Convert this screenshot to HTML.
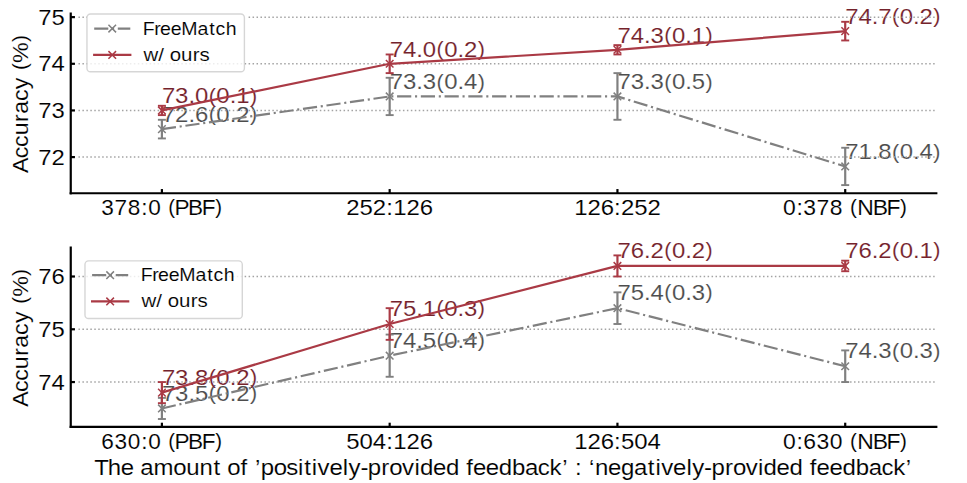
<!DOCTYPE html>
<html><head><meta charset="utf-8"><style>
html,body{margin:0;padding:0;background:#fff;width:967px;height:483px;overflow:hidden}
svg{display:block}
text{font-family:"Liberation Sans",sans-serif}
</style></head><body>
<svg width="967" height="483" viewBox="0 0 967 483">
<text transform="translate(161.9,122.11) scale(1.0817,1)" font-size="22.12" fill="#4d4d4d" stroke="#fff" stroke-width="0.12"><tspan x="-0.02 12.23 24.49 30.60" y="0">72.6</tspan><tspan x="43.32" y="-0.80" font-size="19.91">(</tspan><tspan x="50.37 62.63 68.74" y="0">0.2</tspan><tspan x="81.46" y="-0.80" font-size="19.91">)</tspan></text>
<text transform="translate(161.9,103.45) scale(1.0817,1)" font-size="22.12" fill="#74222b" stroke="#fff" stroke-width="0.12"><tspan x="-0.02 12.23 24.49 30.60" y="0">73.0</tspan><tspan x="43.32" y="-0.80" font-size="19.91">(</tspan><tspan x="50.37 62.63 68.74" y="0">0.1</tspan><tspan x="81.46" y="-0.80" font-size="19.91">)</tspan></text>
<text transform="translate(389.67,89.45) scale(1.0817,1)" font-size="22.12" fill="#4d4d4d" stroke="#fff" stroke-width="0.12"><tspan x="-0.02 12.23 24.49 30.60" y="0">73.3</tspan><tspan x="43.32" y="-0.80" font-size="19.91">(</tspan><tspan x="50.37 62.63 68.74" y="0">0.4</tspan><tspan x="81.46" y="-0.80" font-size="19.91">)</tspan></text>
<text transform="translate(389.67,56.79) scale(1.0817,1)" font-size="22.12" fill="#74222b" stroke="#fff" stroke-width="0.12"><tspan x="-0.02 12.23 24.49 30.60" y="0">74.0</tspan><tspan x="43.32" y="-0.80" font-size="19.91">(</tspan><tspan x="50.37 62.63 68.74" y="0">0.2</tspan><tspan x="81.46" y="-0.80" font-size="19.91">)</tspan></text>
<text transform="translate(617.44,89.45) scale(1.0817,1)" font-size="22.12" fill="#4d4d4d" stroke="#fff" stroke-width="0.12"><tspan x="-0.02 12.23 24.49 30.60" y="0">73.3</tspan><tspan x="43.32" y="-0.80" font-size="19.91">(</tspan><tspan x="50.37 62.63 68.74" y="0">0.5</tspan><tspan x="81.46" y="-0.80" font-size="19.91">)</tspan></text>
<text transform="translate(617.44,42.79) scale(1.0817,1)" font-size="22.12" fill="#74222b" stroke="#fff" stroke-width="0.12"><tspan x="-0.02 12.23 24.49 30.60" y="0">74.3</tspan><tspan x="43.32" y="-0.80" font-size="19.91">(</tspan><tspan x="50.37 62.63 68.74" y="0">0.1</tspan><tspan x="81.46" y="-0.80" font-size="19.91">)</tspan></text>
<text transform="translate(845.21,159.43) scale(1.0817,1)" font-size="22.12" fill="#4d4d4d" stroke="#fff" stroke-width="0.12"><tspan x="-0.02 12.23 24.49 30.60" y="0">71.8</tspan><tspan x="43.32" y="-0.80" font-size="19.91">(</tspan><tspan x="50.37 62.63 68.74" y="0">0.4</tspan><tspan x="81.46" y="-0.80" font-size="19.91">)</tspan></text>
<text transform="translate(845.21,24.13) scale(1.0817,1)" font-size="22.12" fill="#74222b" stroke="#fff" stroke-width="0.12"><tspan x="-0.02 12.23 24.49 30.60" y="0">74.7</tspan><tspan x="43.32" y="-0.80" font-size="19.91">(</tspan><tspan x="50.37 62.63 68.74" y="0">0.2</tspan><tspan x="81.46" y="-0.80" font-size="19.91">)</tspan></text>
<line x1="78.45" y1="157.1" x2="936.3" y2="157.1" stroke="#a3a3a3" stroke-width="1.5" stroke-dasharray="1.5 2.457"/>
<line x1="78.45" y1="110.44" x2="936.3" y2="110.44" stroke="#a3a3a3" stroke-width="1.5" stroke-dasharray="1.5 2.457"/>
<line x1="78.45" y1="63.79" x2="936.3" y2="63.79" stroke="#a3a3a3" stroke-width="1.5" stroke-dasharray="1.5 2.457"/>
<line x1="78.45" y1="17.13" x2="86.96" y2="17.13" stroke="#a3a3a3" stroke-width="1.5" stroke-dasharray="1.5 2.457"/>
<line x1="248.6" y1="17.13" x2="936.3" y2="17.13" stroke="#a3a3a3" stroke-width="1.5" stroke-dasharray="1.5 2.457"/>
<polyline points="161.9,129.11 389.67,96.45 617.44,96.45 845.21,166.43" fill="none" stroke="#808080" stroke-width="2.2" stroke-dasharray="14.2 3.75 2.1 3.7" stroke-dashoffset="0"/>
<line x1="161.9" y1="119.78" x2="161.9" y2="138.44" stroke="#808080" stroke-width="2.2"/>
<line x1="157.9" y1="119.78" x2="165.9" y2="119.78" stroke="#808080" stroke-width="1.9"/>
<line x1="157.9" y1="138.44" x2="165.9" y2="138.44" stroke="#808080" stroke-width="1.9"/>
<path d="M158.1 125.31L165.7 132.91M158.1 132.91L165.7 125.31" stroke="#808080" stroke-width="1.5"/>
<line x1="389.67" y1="77.78" x2="389.67" y2="115.11" stroke="#808080" stroke-width="2.2"/>
<line x1="385.67" y1="77.78" x2="393.67" y2="77.78" stroke="#808080" stroke-width="1.9"/>
<line x1="385.67" y1="115.11" x2="393.67" y2="115.11" stroke="#808080" stroke-width="1.9"/>
<path d="M385.87 92.65L393.47 100.25M385.87 100.25L393.47 92.65" stroke="#808080" stroke-width="1.5"/>
<line x1="617.44" y1="73.12" x2="617.44" y2="119.78" stroke="#808080" stroke-width="2.2"/>
<line x1="613.44" y1="73.12" x2="621.44" y2="73.12" stroke="#808080" stroke-width="1.9"/>
<line x1="613.44" y1="119.78" x2="621.44" y2="119.78" stroke="#808080" stroke-width="1.9"/>
<path d="M613.64 92.65L621.24 100.25M613.64 100.25L621.24 92.65" stroke="#808080" stroke-width="1.5"/>
<line x1="845.21" y1="147.77" x2="845.21" y2="185.1" stroke="#808080" stroke-width="2.2"/>
<line x1="841.21" y1="147.77" x2="849.21" y2="147.77" stroke="#808080" stroke-width="1.9"/>
<line x1="841.21" y1="185.1" x2="849.21" y2="185.1" stroke="#808080" stroke-width="1.9"/>
<path d="M841.41 162.63L849.01 170.23M841.41 170.23L849.01 162.63" stroke="#808080" stroke-width="1.5"/>
<polyline points="161.9,110.44 389.67,63.79 617.44,49.79 845.21,31.13" fill="none" stroke="#aa3a45" stroke-width="2.2" stroke-linecap="square" stroke-linejoin="round"/>
<line x1="161.9" y1="105.78" x2="161.9" y2="115.11" stroke="#aa3a45" stroke-width="2.2"/>
<line x1="157.9" y1="105.78" x2="165.9" y2="105.78" stroke="#aa3a45" stroke-width="1.9"/>
<line x1="157.9" y1="115.11" x2="165.9" y2="115.11" stroke="#aa3a45" stroke-width="1.9"/>
<path d="M158.1 106.64L165.7 114.24M158.1 114.24L165.7 106.64" stroke="#aa3a45" stroke-width="1.5"/>
<line x1="389.67" y1="54.46" x2="389.67" y2="73.12" stroke="#aa3a45" stroke-width="2.2"/>
<line x1="385.67" y1="54.46" x2="393.67" y2="54.46" stroke="#aa3a45" stroke-width="1.9"/>
<line x1="385.67" y1="73.12" x2="393.67" y2="73.12" stroke="#aa3a45" stroke-width="1.9"/>
<path d="M385.87 59.99L393.47 67.59M385.87 67.59L393.47 59.99" stroke="#aa3a45" stroke-width="1.5"/>
<line x1="617.44" y1="45.12" x2="617.44" y2="54.46" stroke="#aa3a45" stroke-width="2.2"/>
<line x1="613.44" y1="45.12" x2="621.44" y2="45.12" stroke="#aa3a45" stroke-width="1.9"/>
<line x1="613.44" y1="54.46" x2="621.44" y2="54.46" stroke="#aa3a45" stroke-width="1.9"/>
<path d="M613.64 45.99L621.24 53.59M613.64 53.59L621.24 45.99" stroke="#aa3a45" stroke-width="1.5"/>
<line x1="845.21" y1="21.8" x2="845.21" y2="40.46" stroke="#aa3a45" stroke-width="2.2"/>
<line x1="841.21" y1="21.8" x2="849.21" y2="21.8" stroke="#aa3a45" stroke-width="1.9"/>
<line x1="841.21" y1="40.46" x2="849.21" y2="40.46" stroke="#aa3a45" stroke-width="1.9"/>
<path d="M841.41 27.33L849.01 34.93M841.41 34.93L849.01 27.33" stroke="#aa3a45" stroke-width="1.5"/>
<line x1="70.75" y1="12.5" x2="70.75" y2="194.35" stroke="#000" stroke-width="2.2"/>
<line x1="69.65" y1="193.25" x2="937.4" y2="193.25" stroke="#000" stroke-width="2.2"/>
<line x1="70.75" y1="157.1" x2="74.95" y2="157.1" stroke="#000" stroke-width="2.2"/>
<text transform="translate(38.34,164.7) scale(1.0774,1)" font-size="22.12" fill="#000" stroke="#fff" stroke-width="0.12"><tspan x="0.00 12.30" y="0">72</tspan></text>
<line x1="70.75" y1="110.44" x2="74.95" y2="110.44" stroke="#000" stroke-width="2.2"/>
<text transform="translate(38.34,118.04) scale(1.0774,1)" font-size="22.12" fill="#000" stroke="#fff" stroke-width="0.12"><tspan x="0.00 12.30" y="0">73</tspan></text>
<line x1="70.75" y1="63.79" x2="74.95" y2="63.79" stroke="#000" stroke-width="2.2"/>
<text transform="translate(38.34,71.39) scale(1.0774,1)" font-size="22.12" fill="#000" stroke="#fff" stroke-width="0.12"><tspan x="0.00 12.30" y="0">74</tspan></text>
<line x1="70.75" y1="17.13" x2="74.95" y2="17.13" stroke="#000" stroke-width="2.2"/>
<text transform="translate(38.34,24.73) scale(1.0774,1)" font-size="22.12" fill="#000" stroke="#fff" stroke-width="0.12"><tspan x="0.00 12.30" y="0">75</tspan></text>
<line x1="161.9" y1="193.25" x2="161.9" y2="189.05" stroke="#000" stroke-width="2.2"/>
<text transform="translate(101.03,215) scale(1.0209,1)" font-size="22.12" fill="#000" stroke="#fff" stroke-width="0.12"><tspan x="0.34 13.32 26.30 39.31 46.16 58.97" y="0">378:0 </tspan><tspan x="65.95" y="-0.80" font-size="19.91">(</tspan><tspan x="72.02 85.17 98.66" y="0">PBF</tspan><tspan x="111.95" y="-0.80" font-size="19.91">)</tspan></text>
<line x1="389.67" y1="193.25" x2="389.67" y2="189.05" stroke="#000" stroke-width="2.2"/>
<text transform="translate(346.4,215) scale(1.0823,1)" font-size="22.12" fill="#000" stroke="#fff" stroke-width="0.12"><tspan x="-0.03 12.22 24.46 36.90 43.19 55.43 67.68" y="0">252:126</tspan></text>
<line x1="617.44" y1="193.25" x2="617.44" y2="189.05" stroke="#000" stroke-width="2.2"/>
<text transform="translate(574.17,215) scale(1.0823,1)" font-size="22.12" fill="#000" stroke="#fff" stroke-width="0.12"><tspan x="-0.03 12.22 24.46 36.90 43.19 55.43 67.68" y="0">126:252</tspan></text>
<line x1="845.21" y1="193.25" x2="845.21" y2="189.05" stroke="#000" stroke-width="2.2"/>
<text transform="translate(782.83,215) scale(1.0357,1)" font-size="22.12" fill="#000" stroke="#fff" stroke-width="0.12"><tspan x="0.25 13.11 19.82 32.62 45.41 58.09" y="0">0:378 </tspan><tspan x="64.97" y="-0.80" font-size="19.91">(</tspan><tspan x="71.74 86.77 100.08" y="0">NBF</tspan><tspan x="113.22" y="-0.80" font-size="19.91">)</tspan></text>
<text transform="translate(27.8,172.31) rotate(-90) scale(1.0477,1)" font-size="22.12" fill="#000" stroke="#fff" stroke-width="0.12"><tspan x="-0.58 13.54 24.12 35.26 48.12 55.83 68.01 79.36 90.86" y="0">Accuracy </tspan><tspan x="97.66" y="-0.80" font-size="19.91">(</tspan><tspan x="104.46" y="0">%</tspan><tspan x="124.31" y="-0.80" font-size="19.91">)</tspan></text>
<rect x="86.96" y="14" width="157.44" height="57.8" rx="3.6" fill="#fff" fill-opacity="0.8" stroke="#cccccc" stroke-opacity="0.8" stroke-width="1.39"/>
<line x1="94.2" y1="28.6" x2="130.3" y2="28.6" stroke="#808080" stroke-width="2.2" stroke-dasharray="14.1 3.7 2.1 3.7" stroke-dashoffset="0"/>
<line x1="94.2" y1="54.9" x2="130.3" y2="54.9" stroke="#aa3a45" stroke-width="2.2" stroke-linecap="square"/>
<path d="M108.45 24.8L116.05 32.4M108.45 32.4L116.05 24.8" stroke="#808080" stroke-width="1.5"/>
<path d="M108.45 51.1L116.05 58.7M108.45 58.7L116.05 51.1" stroke="#aa3a45" stroke-width="1.5"/>
<text transform="translate(143.4,34.8) scale(1.0194,1)" font-size="19.18" fill="#000" stroke="#fff" stroke-width="0.12"><tspan x="-0.76 10.64 16.30 26.81 37.25 52.98 64.55 70.76 80.71" y="0">FreeMatch</tspan></text>
<text transform="translate(143.4,60.8) scale(1.0666,1)" font-size="19.18" fill="#000" stroke="#fff" stroke-width="0.12"><tspan x="-0.00 14.04 19.58 24.78 35.33 46.31 52.61" y="0">w/ ours</tspan></text>
<text transform="translate(161.9,400.53) scale(1.0817,1)" font-size="22.12" fill="#4d4d4d" stroke="#fff" stroke-width="0.12"><tspan x="-0.02 12.23 24.49 30.60" y="0">73.5</tspan><tspan x="43.32" y="-0.80" font-size="19.91">(</tspan><tspan x="50.37 62.63 68.74" y="0">0.2</tspan><tspan x="81.46" y="-0.80" font-size="19.91">)</tspan></text>
<text transform="translate(161.9,384.7) scale(1.0817,1)" font-size="22.12" fill="#74222b" stroke="#fff" stroke-width="0.12"><tspan x="-0.02 12.23 24.49 30.60" y="0">73.8</tspan><tspan x="43.32" y="-0.80" font-size="19.91">(</tspan><tspan x="50.37 62.63 68.74" y="0">0.2</tspan><tspan x="81.46" y="-0.80" font-size="19.91">)</tspan></text>
<text transform="translate(389.67,347.75) scale(1.0817,1)" font-size="22.12" fill="#4d4d4d" stroke="#fff" stroke-width="0.12"><tspan x="-0.02 12.23 24.49 30.60" y="0">74.5</tspan><tspan x="43.32" y="-0.80" font-size="19.91">(</tspan><tspan x="50.37 62.63 68.74" y="0">0.4</tspan><tspan x="81.46" y="-0.80" font-size="19.91">)</tspan></text>
<text transform="translate(389.67,316.09) scale(1.0817,1)" font-size="22.12" fill="#74222b" stroke="#fff" stroke-width="0.12"><tspan x="-0.02 12.23 24.49 30.60" y="0">75.1</tspan><tspan x="43.32" y="-0.80" font-size="19.91">(</tspan><tspan x="50.37 62.63 68.74" y="0">0.3</tspan><tspan x="81.46" y="-0.80" font-size="19.91">)</tspan></text>
<text transform="translate(617.44,300.25) scale(1.0817,1)" font-size="22.12" fill="#4d4d4d" stroke="#fff" stroke-width="0.12"><tspan x="-0.02 12.23 24.49 30.60" y="0">75.4</tspan><tspan x="43.32" y="-0.80" font-size="19.91">(</tspan><tspan x="50.37 62.63 68.74" y="0">0.3</tspan><tspan x="81.46" y="-0.80" font-size="19.91">)</tspan></text>
<text transform="translate(617.44,258.03) scale(1.0817,1)" font-size="22.12" fill="#74222b" stroke="#fff" stroke-width="0.12"><tspan x="-0.02 12.23 24.49 30.60" y="0">76.2</tspan><tspan x="43.32" y="-0.80" font-size="19.91">(</tspan><tspan x="50.37 62.63 68.74" y="0">0.2</tspan><tspan x="81.46" y="-0.80" font-size="19.91">)</tspan></text>
<text transform="translate(845.21,358.31) scale(1.0817,1)" font-size="22.12" fill="#4d4d4d" stroke="#fff" stroke-width="0.12"><tspan x="-0.02 12.23 24.49 30.60" y="0">74.3</tspan><tspan x="43.32" y="-0.80" font-size="19.91">(</tspan><tspan x="50.37 62.63 68.74" y="0">0.3</tspan><tspan x="81.46" y="-0.80" font-size="19.91">)</tspan></text>
<text transform="translate(845.21,258.03) scale(1.0817,1)" font-size="22.12" fill="#74222b" stroke="#fff" stroke-width="0.12"><tspan x="-0.02 12.23 24.49 30.60" y="0">76.2</tspan><tspan x="43.32" y="-0.80" font-size="19.91">(</tspan><tspan x="50.37 62.63 68.74" y="0">0.1</tspan><tspan x="81.46" y="-0.80" font-size="19.91">)</tspan></text>
<line x1="78.45" y1="382.06" x2="936.3" y2="382.06" stroke="#a3a3a3" stroke-width="1.5" stroke-dasharray="1.5 2.457"/>
<line x1="78.45" y1="329.28" x2="936.3" y2="329.28" stroke="#a3a3a3" stroke-width="1.5" stroke-dasharray="1.5 2.457"/>
<line x1="78.45" y1="276.5" x2="936.3" y2="276.5" stroke="#a3a3a3" stroke-width="1.5" stroke-dasharray="1.5 2.457"/>
<polyline points="161.9,408.45 389.67,355.67 617.44,308.17 845.21,366.23" fill="none" stroke="#808080" stroke-width="2.2" stroke-dasharray="14.2 3.75 2.1 3.7" stroke-dashoffset="0"/>
<line x1="161.9" y1="397.89" x2="161.9" y2="419.01" stroke="#808080" stroke-width="2.2"/>
<line x1="157.9" y1="397.89" x2="165.9" y2="397.89" stroke="#808080" stroke-width="1.9"/>
<line x1="157.9" y1="419.01" x2="165.9" y2="419.01" stroke="#808080" stroke-width="1.9"/>
<path d="M158.1 404.65L165.7 412.25M158.1 412.25L165.7 404.65" stroke="#808080" stroke-width="1.5"/>
<line x1="389.67" y1="334.56" x2="389.67" y2="376.78" stroke="#808080" stroke-width="2.2"/>
<line x1="385.67" y1="334.56" x2="393.67" y2="334.56" stroke="#808080" stroke-width="1.9"/>
<line x1="385.67" y1="376.78" x2="393.67" y2="376.78" stroke="#808080" stroke-width="1.9"/>
<path d="M385.87 351.87L393.47 359.47M385.87 359.47L393.47 351.87" stroke="#808080" stroke-width="1.5"/>
<line x1="617.44" y1="292.33" x2="617.44" y2="324" stroke="#808080" stroke-width="2.2"/>
<line x1="613.44" y1="292.33" x2="621.44" y2="292.33" stroke="#808080" stroke-width="1.9"/>
<line x1="613.44" y1="324" x2="621.44" y2="324" stroke="#808080" stroke-width="1.9"/>
<path d="M613.64 304.37L621.24 311.97M613.64 311.97L621.24 304.37" stroke="#808080" stroke-width="1.5"/>
<line x1="845.21" y1="350.39" x2="845.21" y2="382.06" stroke="#808080" stroke-width="2.2"/>
<line x1="841.21" y1="350.39" x2="849.21" y2="350.39" stroke="#808080" stroke-width="1.9"/>
<line x1="841.21" y1="382.06" x2="849.21" y2="382.06" stroke="#808080" stroke-width="1.9"/>
<path d="M841.41 362.43L849.01 370.03M841.41 370.03L849.01 362.43" stroke="#808080" stroke-width="1.5"/>
<polyline points="161.9,392.62 389.67,324 617.44,265.94 845.21,265.94" fill="none" stroke="#aa3a45" stroke-width="2.2" stroke-linecap="square" stroke-linejoin="round"/>
<line x1="161.9" y1="382.06" x2="161.9" y2="403.17" stroke="#aa3a45" stroke-width="2.2"/>
<line x1="157.9" y1="382.06" x2="165.9" y2="382.06" stroke="#aa3a45" stroke-width="1.9"/>
<line x1="157.9" y1="403.17" x2="165.9" y2="403.17" stroke="#aa3a45" stroke-width="1.9"/>
<path d="M158.1 388.82L165.7 396.42M158.1 396.42L165.7 388.82" stroke="#aa3a45" stroke-width="1.5"/>
<line x1="389.67" y1="308.17" x2="389.67" y2="339.84" stroke="#aa3a45" stroke-width="2.2"/>
<line x1="385.67" y1="308.17" x2="393.67" y2="308.17" stroke="#aa3a45" stroke-width="1.9"/>
<line x1="385.67" y1="339.84" x2="393.67" y2="339.84" stroke="#aa3a45" stroke-width="1.9"/>
<path d="M385.87 320.2L393.47 327.8M385.87 327.8L393.47 320.2" stroke="#aa3a45" stroke-width="1.5"/>
<line x1="617.44" y1="255.39" x2="617.44" y2="276.5" stroke="#aa3a45" stroke-width="2.2"/>
<line x1="613.44" y1="255.39" x2="621.44" y2="255.39" stroke="#aa3a45" stroke-width="1.9"/>
<line x1="613.44" y1="276.5" x2="621.44" y2="276.5" stroke="#aa3a45" stroke-width="1.9"/>
<path d="M613.64 262.14L621.24 269.74M613.64 269.74L621.24 262.14" stroke="#aa3a45" stroke-width="1.5"/>
<line x1="845.21" y1="260.67" x2="845.21" y2="271.22" stroke="#aa3a45" stroke-width="2.2"/>
<line x1="841.21" y1="260.67" x2="849.21" y2="260.67" stroke="#aa3a45" stroke-width="1.9"/>
<line x1="841.21" y1="271.22" x2="849.21" y2="271.22" stroke="#aa3a45" stroke-width="1.9"/>
<path d="M841.41 262.14L849.01 269.74M841.41 269.74L849.01 262.14" stroke="#aa3a45" stroke-width="1.5"/>
<line x1="70.75" y1="246.5" x2="70.75" y2="428" stroke="#000" stroke-width="2.2"/>
<line x1="69.65" y1="426.9" x2="937.4" y2="426.9" stroke="#000" stroke-width="2.2"/>
<line x1="70.75" y1="382.06" x2="74.95" y2="382.06" stroke="#000" stroke-width="2.2"/>
<text transform="translate(38.34,389.66) scale(1.0774,1)" font-size="22.12" fill="#000" stroke="#fff" stroke-width="0.12"><tspan x="0.00 12.30" y="0">74</tspan></text>
<line x1="70.75" y1="329.28" x2="74.95" y2="329.28" stroke="#000" stroke-width="2.2"/>
<text transform="translate(38.34,336.88) scale(1.0774,1)" font-size="22.12" fill="#000" stroke="#fff" stroke-width="0.12"><tspan x="0.00 12.30" y="0">75</tspan></text>
<line x1="70.75" y1="276.5" x2="74.95" y2="276.5" stroke="#000" stroke-width="2.2"/>
<text transform="translate(38.34,284.1) scale(1.0774,1)" font-size="22.12" fill="#000" stroke="#fff" stroke-width="0.12"><tspan x="0.00 12.30" y="0">76</tspan></text>
<line x1="161.9" y1="426.9" x2="161.9" y2="422.7" stroke="#000" stroke-width="2.2"/>
<text transform="translate(101.03,448.65) scale(1.0209,1)" font-size="22.12" fill="#000" stroke="#fff" stroke-width="0.12"><tspan x="0.34 13.32 26.30 39.31 46.16 58.97" y="0">630:0 </tspan><tspan x="65.95" y="-0.80" font-size="19.91">(</tspan><tspan x="72.02 85.17 98.66" y="0">PBF</tspan><tspan x="111.95" y="-0.80" font-size="19.91">)</tspan></text>
<line x1="389.67" y1="426.9" x2="389.67" y2="422.7" stroke="#000" stroke-width="2.2"/>
<text transform="translate(346.4,448.65) scale(1.0823,1)" font-size="22.12" fill="#000" stroke="#fff" stroke-width="0.12"><tspan x="-0.03 12.22 24.46 36.90 43.19 55.43 67.68" y="0">504:126</tspan></text>
<line x1="617.44" y1="426.9" x2="617.44" y2="422.7" stroke="#000" stroke-width="2.2"/>
<text transform="translate(574.17,448.65) scale(1.0823,1)" font-size="22.12" fill="#000" stroke="#fff" stroke-width="0.12"><tspan x="-0.03 12.22 24.46 36.90 43.19 55.43 67.68" y="0">126:504</tspan></text>
<line x1="845.21" y1="426.9" x2="845.21" y2="422.7" stroke="#000" stroke-width="2.2"/>
<text transform="translate(782.83,448.65) scale(1.0357,1)" font-size="22.12" fill="#000" stroke="#fff" stroke-width="0.12"><tspan x="0.25 13.11 19.82 32.62 45.41 58.09" y="0">0:630 </tspan><tspan x="64.97" y="-0.80" font-size="19.91">(</tspan><tspan x="71.74 86.77 100.08" y="0">NBF</tspan><tspan x="113.22" y="-0.80" font-size="19.91">)</tspan></text>
<text transform="translate(27.8,406.13) rotate(-90) scale(1.0477,1)" font-size="22.12" fill="#000" stroke="#fff" stroke-width="0.12"><tspan x="-0.58 13.54 24.12 35.26 48.12 55.83 68.01 79.36 90.86" y="0">Accuracy </tspan><tspan x="97.66" y="-0.80" font-size="19.91">(</tspan><tspan x="104.46" y="0">%</tspan><tspan x="124.31" y="-0.80" font-size="19.91">)</tspan></text>
<rect x="84.97" y="260.9" width="157.33" height="57.6" rx="3.6" fill="#fff" fill-opacity="0.8" stroke="#cccccc" stroke-opacity="0.8" stroke-width="1.39"/>
<line x1="92.1" y1="275.2" x2="128.2" y2="275.2" stroke="#808080" stroke-width="2.2" stroke-dasharray="14.1 3.7 2.1 3.7" stroke-dashoffset="0"/>
<line x1="92.1" y1="301.4" x2="128.2" y2="301.4" stroke="#aa3a45" stroke-width="2.2" stroke-linecap="square"/>
<path d="M106.35 271.4L113.95 279M106.35 279L113.95 271.4" stroke="#808080" stroke-width="1.5"/>
<path d="M106.35 297.6L113.95 305.2M106.35 305.2L113.95 297.6" stroke="#aa3a45" stroke-width="1.5"/>
<text transform="translate(141.4,281.3) scale(1.0194,1)" font-size="19.18" fill="#000" stroke="#fff" stroke-width="0.12"><tspan x="-0.76 10.64 16.30 26.81 37.25 52.98 64.55 70.76 80.71" y="0">FreeMatch</tspan></text>
<text transform="translate(141.4,307.4) scale(1.0666,1)" font-size="19.18" fill="#000" stroke="#fff" stroke-width="0.12"><tspan x="-0.00 14.04 19.58 24.78 35.33 46.31 52.61" y="0">w/ ours</tspan></text>
<text transform="translate(95.2,474.6) scale(1.0847,1)" font-size="22.12" fill="#000" stroke="#fff" stroke-width="0.12"><tspan x="-0.89 11.66 23.66 35.69 41.55 53.73 72.02 83.98 96.15 109.07 115.89 121.74 134.07 140.51 147.23 152.68 164.65 176.15 186.89 192.71 199.75 205.03 216.00 228.27 233.55 244.54 251.29 263.80 271.16 282.91 294.33 299.40 311.41 323.41 335.63 342.06 348.27 360.09 372.09 384.28 396.26 408.04 418.88 430.56 436.05 442.34 448.63 455.35 460.79 472.78 484.79 496.76 509.49 516.54 521.82 532.78 545.05 550.33 561.32 568.08 580.59 587.94 599.70 611.12 616.19 628.19 640.19 652.42 658.85 665.06 676.87 688.87 701.06 713.04 724.83 735.66 747.35" y="0">The amount of ’positively-provided feedback’ : ‘negatively-provided feedback’</tspan></text>
</svg>
</body></html>
